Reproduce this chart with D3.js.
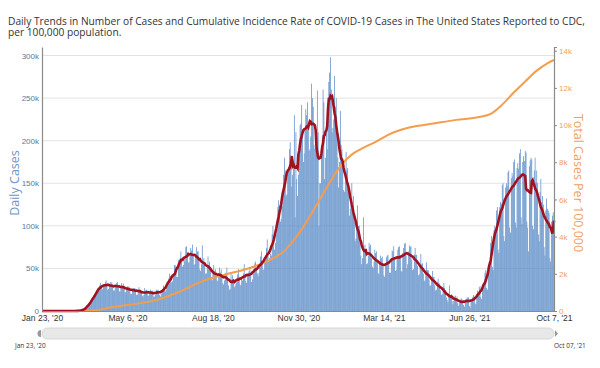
<!DOCTYPE html>
<html>
<head>
<meta charset="utf-8">
<script src="https://cdn.jsdelivr.net/npm/d3@7"></script>
<style>
  body { margin: 0; background: #fff; }
  svg { font-family: "Open Sans", sans-serif; }
</style>
</head>
<body>
<div id="chart"></div>
<script>
// daily reported cases (thousands), one row per week starting Thursday
var cases2020 = [
  0,0,0,0,0,0,0,                 // Jan 23
  0,0,0,0,0,0,0,
  0,0,0,0,0,0,0,
  0,0,0,0,0,0,0,
  0,0,0,0,0,0,0,
  0.01,0.01,0.01,0.02,0.02,0.03,0.04,   // Feb 27
  0.08,0.12,0.15,0.2,0.3,0.5,0.7,
  0.9,1.2,1.6,2.0,2.8,4.0,5.0,
  6.5,8,9,9.5,11,12,14,
  18,20,19,19,21,24,26,
  30,33,28,25,26,30,31,          // Apr 2
  34,36,30,25,26,32,34,
  31,34,28,24,24,30,32,
  33,34,28,23,23,29,33,
  30,32,27,22,22,27,29,
  28,29,25,20,20,26,27,          // May 7
  27,27,24,19,19,24,28,
  26,25,22,18,17,19,27,
  24,25,22,18,18,22,25,
  23,24,22,17,17,19,25,
  24,25,24,19,17,20,25,          // Jun 11
  25,30,28,23,25,29,29,
  38,44,41,33,34,35,41,
  54,54,44,40,40,60,58,
  62,70,62,52,54,62,58,
  75,76,64,57,57,66,74,          // Jul 16
  71,78,65,54,55,64,75,
  70,70,59,49,47,55,77,
  58,62,54,44,44,52,64,
  54,58,50,40,36,44,54,
  47,49,42,36,35,41,51,          // Aug 20
  45,49,41,33,31,36,45,
  42,51,40,30,25,26,45,
  37,42,35,28,30,32,34,
  43,49,39,31,30,38,36,
  44,55,42,35,33,40,45,          // Sep 24
  47,52,45,34,37,44,49,
  56,58,50,44,41,45,56,
  64,70,56,48,49,59,60,
  74,84,66,58,62,67,65,
  90,100,88,72,80,90,96,         // Oct 29
  122,130,124,105,108,128,123,
  160,180,165,135,137,160,169,
  190,198,172,146,160,178,230,
  110,210,155,135,160,188,218,
  220,242,210,175,185,215,237,   // Dec 3
  230,245,215,188,190,205,267,
  250,240,195,190,192,200,259,
  210,100,150,150,185,205,260,
  245                            // Dec 31
];
var cases2021 = [
  155,180,210,190,235,269,       // Jan 1
  280,298,260,210,215,225,276,
  240,250,210,180,145,175,235,
  195,190,170,142,140,152,187,
  165,168,140,112,120,125,150,
  125,135,105,82,85,100,124,     // Feb 4
  100,100,82,65,55,62,110,
  70,78,65,55,56,65,80,
  76,78,62,52,50,58,72,
  68,70,58,44,44,57,65,
  62,64,52,42,40,55,63,          // Mar 11
  65,66,56,45,45,58,71,
  70,76,60,47,48,61,72,
  75,76,62,47,46,68,74,
  79,80,65,50,55,70,77,
  75,76,60,48,49,66,74,          // Apr 15
  66,66,53,42,43,55,67,
  55,56,44,35,36,46,57,
  48,48,37,30,30,40,47,
  40,40,30,24,25,34,38,
  33,32,24,19,20,28,33,          // May 20
  27,24,16,13,10,20,30,
  18,20,12,8,12,17,18,
  15,17,9,6,10,12,15,
  14,12,7,5,11,13,15,
  16,16,6,4,12,14,16,            // Jun 24
  19,17,9,8,15,24,20,
  28,29,16,14,28,31,29,
  45,48,27,25,48,52,49,
  80,88,52,48,95,100,97,
  118,122,72,68,122,128,126,     // Jul 29
  148,150,88,82,145,150,147,
  163,165,98,92,156,162,158,
  175,178,104,98,168,174,167,
  185,190,110,102,175,182,176,
  188,186,105,98,70,170,177,     // Sep 2
  180,178,100,96,165,180,151,
  165,150,90,82,140,155,128,
  135,125,75,65,118,132,120,
  118,115,62,58,105,112,116,
  92                             // Oct 7
];

// cumulative cases per 100,000
var rateDates = ["2020-01-23","2020-02-20","2020-03-05","2020-03-19","2020-04-02","2020-04-16",
  "2020-05-14","2020-06-11","2020-07-09","2020-08-06","2020-09-03","2020-10-01","2020-10-29",
  "2020-11-12","2020-11-26","2020-12-10","2020-12-24","2021-01-07","2021-01-21","2021-02-04",
  "2021-02-18","2021-03-04","2021-03-18","2021-04-15","2021-05-13","2021-06-10","2021-07-08",
  "2021-07-22","2021-08-05","2021-08-19","2021-09-02","2021-09-16","2021-09-30","2021-10-07"];
var ratePer100k = [0,0,0,10,70,200,370,600,1050,1620,1980,2300,2800,3200,3900,4800,5850,
  6900,7850,8450,8800,9100,9450,9880,10080,10280,10430,10600,11100,11750,12350,12930,13350,13500];

var tickDates = ["2020-01-23","2020-05-06","2020-08-18","2020-11-30","2021-03-14","2021-06-26","2021-10-07"];
var leftTicks = [0,50000,100000,150000,200000,250000,300000];
var rightTicks = [0,2000,4000,6000,8000,10000,12000,14000];
var startDate = "2020-01-23", endDate = "2021-10-07";

var w = 600, h = 368;
var mLeft = 42, mRight = 554, mTop = 47, mBottom = 311;
var parse = d3.utcParse("%Y-%m-%d");

var daily = cases2020.concat(cases2021).map(function(v, i) {
  return {date: d3.utcDay.offset(parse(startDate), i), value: v * 1000};
});
// 7 day average
var avg = daily.map(function(d, i) {
  var win = daily.slice(Math.max(0, i - 3), Math.min(daily.length, i + 4));
  return {date: d.date, value: d3.mean(win, function(e) { return e.value; })};
});
var rate = rateDates.map(function(d, i) { return {date: parse(d), value: ratePer100k[i]}; });

var svg = d3.select("#chart").append("svg")
    .attr("width", w)
    .attr("height", h);

var x = d3.scaleUtc().domain([parse(startDate), parse(endDate)]).range([mLeft, mRight]);
var yL = d3.scaleLinear().domain([0, 310000]).range([mBottom, mTop]);
var yR = d3.scaleLinear().domain([0, 14200]).range([mBottom, mTop]);

// title
var title = svg.append("text").attr("x", 8).attr("y", 25)
    .style("font-size", "10.2px").style("fill", "#333");
title.append("tspan").attr("x", 8).text("Daily Trends in Number of Cases and Cumulative Incidence Rate of COVID-19 Cases in The United States Reported to CDC,");
title.append("tspan").attr("x", 8).attr("dy", 11).text("per 100,000 population.");

// gridlines
svg.append("g").selectAll("line")
    .data(leftTicks.slice(1))
    .enter().append("line")
    .attr("x1", mLeft).attr("x2", mRight)
    .attr("y1", function(d) { return yL(d); })
    .attr("y2", function(d) { return yL(d); })
    .style("stroke", "#e3e3e3");

// bars
var step = x(daily[1].date) - x(daily[0].date);
svg.append("g").selectAll("rect")
    .data(daily)
    .enter().append("rect")
    .attr("x", function(d) { return x(d.date) - step * 0.42; })
    .attr("width", step * 0.84)
    .attr("y", function(d) { return yL(d.value); })
    .attr("height", function(d) { return mBottom - yL(d.value); })
    .style("fill", "#5286c4");

// cumulative rate line
svg.append("path")
    .datum(rate)
    .attr("d", d3.line().curve(d3.curveMonotoneX)
        .x(function(d) { return x(d.date); })
        .y(function(d) { return yR(d.value); }))
    .style("fill", "none")
    .style("stroke", "#f59d4c")
    .style("stroke-width", 2);

// 7 day average line
svg.append("path")
    .datum(avg)
    .attr("d", d3.line()
        .x(function(d) { return x(d.date); })
        .y(function(d) { return yL(d.value); }))
    .style("fill", "none")
    .style("stroke", "#a01220")
    .style("stroke-width", 2.6);

// left axis
var yAxisL = d3.axisLeft(yL).tickValues(leftTicks).tickSize(0).tickPadding(3)
    .tickFormat(function(d) { return d === 0 ? "0" : d / 1000 + "k"; });
var gl = svg.append("g").attr("transform", "translate(" + mLeft + ",0)").call(yAxisL);
gl.select(".domain").style("stroke", "#8a8a8a").style("stroke-width", 1.2);
gl.selectAll("text").style("font-size", "8px").style("fill", "#5878a0").attr("font-family", null);

// right axis
var yAxisR = d3.axisRight(yR).tickValues(rightTicks).tickSize(3).tickPadding(2)
    .tickFormat(function(d) { return d === 0 ? "0" : d / 1000 + "k"; });
var gr = svg.append("g").attr("transform", "translate(" + mRight + ",0)").call(yAxisR);
gr.select(".domain").style("stroke", "#8a8a8a").style("stroke-width", 1.2);
gr.selectAll("line").style("stroke", "#8a8a8a");
gr.selectAll("text").style("font-size", "8px").style("fill", "#f0a060").attr("font-family", null);

// bottom axis
var xAxis = d3.axisBottom(x).tickValues(tickDates.map(parse)).tickSize(0).tickPadding(4)
    .tickFormat(d3.utcFormat("%b %-d, '%y"));
var gx = svg.append("g").attr("transform", "translate(0," + mBottom + ")").call(xAxis);
gx.select(".domain").style("stroke", "#8a8a8a");
gx.selectAll("text").style("font-size", "8.5px").style("fill", "#333").attr("font-family", null);

// axis titles
svg.append("text")
    .attr("transform", "translate(19,183) rotate(-90)")
    .style("text-anchor", "middle")
    .style("font-size", "12.5px")
    .style("fill", "#6f93c2")
    .text("Daily Cases");
svg.append("text")
    .attr("transform", "translate(574,183) rotate(90)")
    .style("text-anchor", "middle")
    .style("font-size", "12.5px")
    .style("fill", "#f0a060")
    .text("Total Cases Per 100,000");

// range slider
svg.append("rect")
    .attr("x", mLeft).attr("y", 328)
    .attr("width", mRight - mLeft).attr("height", 11)
    .attr("rx", 5.5)
    .style("fill", "#e8e8e8")
    .style("stroke", "#d6d6d6");
svg.append("path")
    .attr("d", "M" + (mLeft - 1) + ",330 a3.5,3.5 0 0,0 0,7 z")
    .style("fill", "#999");
svg.append("path")
    .attr("d", "M" + (mRight + 1) + ",330 l3,3.5 l-3,3.5 z")
    .style("fill", "#999");
svg.append("text").attr("x", 15).attr("y", 348)
    .style("font-size", "6.5px").style("fill", "#333")
    .text(d3.utcFormat("%b %d, '%y")(parse(startDate)));
svg.append("text").attr("x", 554).attr("y", 348)
    .style("font-size", "6.5px").style("fill", "#333")
    .text(d3.utcFormat("%b %d, '%y")(parse(endDate)));
</script>
</body>
</html>
